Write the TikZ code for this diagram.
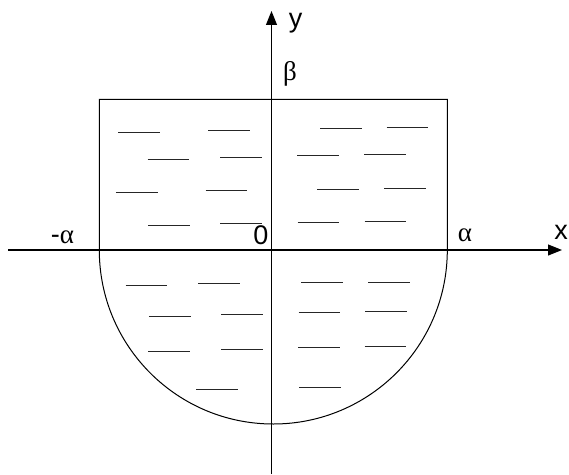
\documentclass[tikz,border=0pt]{standalone}
\usepackage{fontspec}
\setmainfont{Liberation Sans}
\newfontfamily\grk{Liberation Serif}
\usetikzlibrary{arrows.meta}
\tikzset{
  axis/.style={line width=1.1pt, -{Triangle[length=14pt,width=11pt]}},
  outline/.style={line width=1pt},
  hatch/.style={line width=1.2pt, black!85},
  lbl/.style={inner sep=0pt, font=\fontsize{27}{32}\selectfont},
}
\begin{document}
\begin{tikzpicture}[x=1pt,y=1pt]
\useasboundingbox (-271.5,-224) rectangle (297.5,250);
% shape
\draw[outline] (-172.2,0) -- (-172.2,150.5) -- (175.8,150.5) -- (175.8,0) arc (0:-180:174) -- cycle;
% hatch lines
\foreach \x/\y in {-153.2/117.5,-63.2/119.5,-123.8/90.5,-51.5/92.5,-155.5/57.5,-65.8/59.5,-123.2/24.5,-51.2/26.5,
  48.5/121.5,115.2/122.5,25.8/94.5,92.8/95.5,45.8/60.5,112.8/61.5,26.2/27.5,93.2/28.5,
  -145.8/-35.5,-73.5/-33.5,-122.5/-66.5,-50.2/-64.5,-123.2/-101.5,-50.5/-99.5,-75.2/-139.5,
  29.5/-32.5,96.5/-32.5,27.2/-62.5,93.8/-61.5,26.5/-97.5,93.2/-96.5,27.8/-137.5}
  \draw[hatch] (\x,\y) -- ++(41.5,0);
% axes
\coordinate (xs) at (-263,0);
\coordinate (xe) at (290.5,0);
\coordinate (ys) at (0,-224);
\coordinate (ye) at (0,239);
\draw[axis] (xs) -- (xe);
\draw[axis] (ys) -- (ye);
% labels
\node[lbl] (ylab) at (24,227) {y};
\node[lbl] (xlab) at (289.5,18) {x};
\node[lbl] (zero) at (-10.5,14.5) {0};
\node[lbl] (beta) at (18.5,176) {\grk β};
\node[lbl] (alpha) at (193.5,15) {\grk α};
\node[lbl] (malpha) at (-209,13) {-{\grk α}};
\end{tikzpicture}
\end{document}
